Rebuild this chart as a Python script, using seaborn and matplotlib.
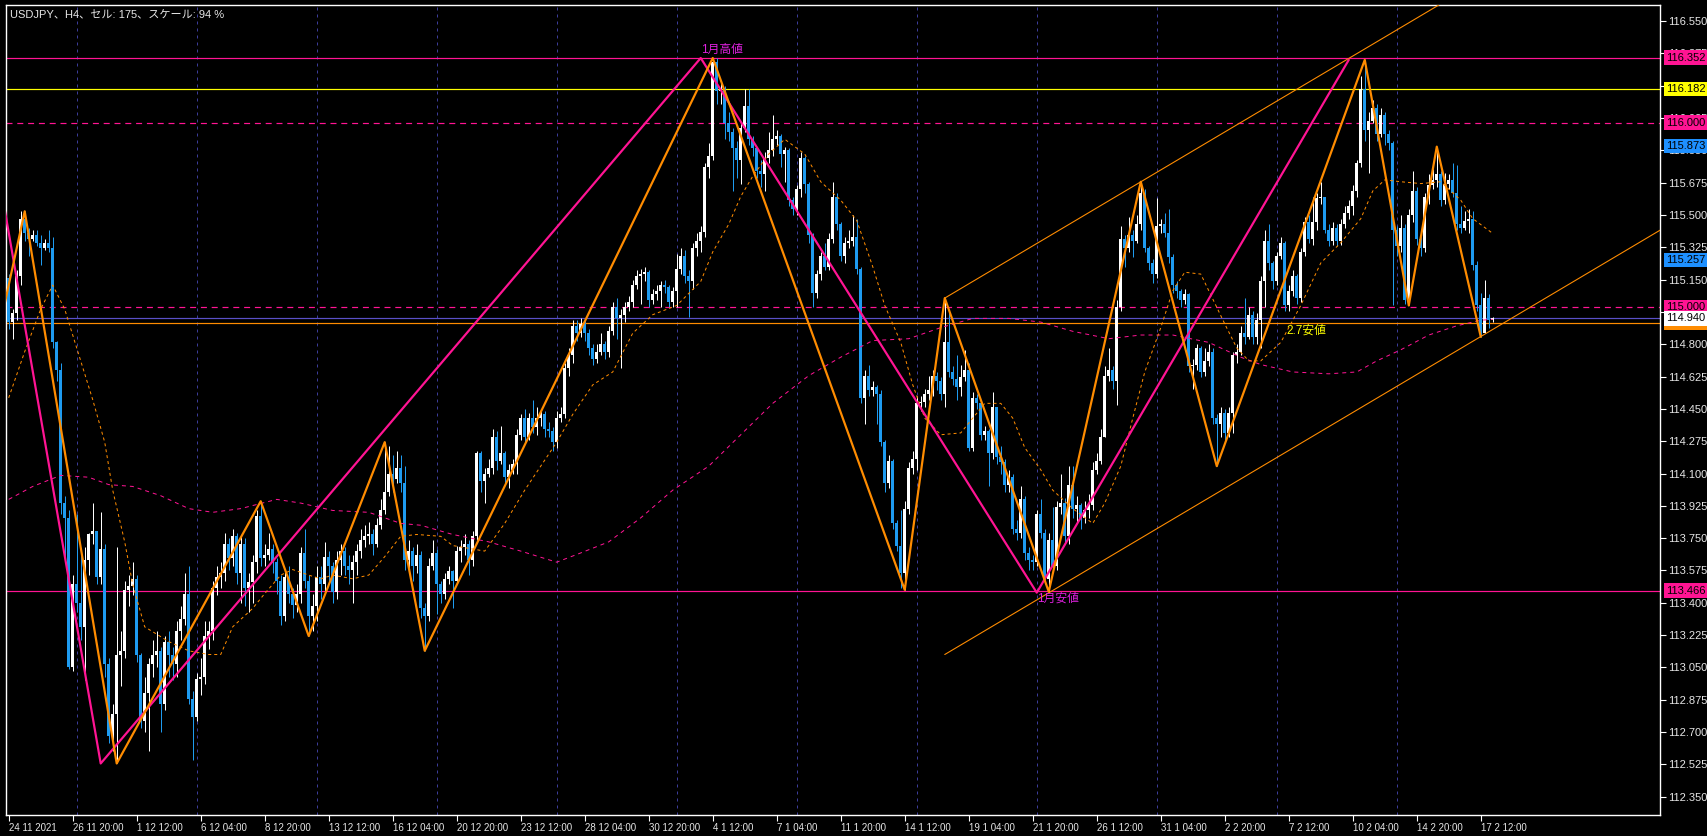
import numpy as np
import matplotlib
matplotlib.use("Agg")
import matplotlib.pyplot as plt
import seaborn as sns

# --- chart data (USDJPY H4) ---
first_open = 115.16
closes = [
    114.92, 114.97, 115.17, 115.48, 115.40, 115.37, 115.39, 115.35, 115.32, 115.35,
    115.32, 114.81, 114.66, 113.94, 113.86, 113.05, 113.50, 113.40, 113.27, 113.63,
    113.77, 113.79, 113.54, 113.69, 113.07, 112.68, 112.80, 113.12, 113.14, 113.47,
    113.49, 113.53, 113.12, 112.76, 112.91, 113.07, 113.12, 113.14, 112.85, 113.19,
    113.12, 113.07, 113.25, 113.31, 113.45, 112.88, 112.78, 112.99, 113.00, 113.22,
    113.25, 113.48, 113.54, 113.56, 113.72, 113.64, 113.76, 113.56, 113.72, 113.48,
    113.51, 113.62, 113.87, 113.64, 113.66, 113.69, 113.62, 113.52, 113.33, 113.54,
    113.45, 113.39, 113.45, 113.67, 113.52, 113.33, 113.38, 113.54, 113.50, 113.65,
    113.60, 113.46, 113.63, 113.68, 113.60, 113.58, 113.62, 113.68, 113.74, 113.76,
    113.77, 113.72, 113.82, 113.90, 114.00, 114.10, 114.07, 114.13, 114.05, 113.63,
    113.68, 113.60, 113.66, 113.37, 113.33, 113.60, 113.67, 113.50, 113.45, 113.53,
    113.57, 113.52, 113.68, 113.70, 113.72, 113.63, 113.76, 114.21, 114.06, 114.10,
    114.13, 114.30, 114.17, 114.21, 114.08, 114.12, 114.15, 114.31, 114.40, 114.30,
    114.40, 114.35, 114.40, 114.42, 114.34, 114.33, 114.27, 114.40, 114.42, 114.67,
    114.74, 114.90, 114.86, 114.91, 114.86, 114.78, 114.72, 114.76, 114.80, 114.76,
    114.87, 115.00, 114.94, 114.96, 115.00, 115.03, 115.12, 115.17, 115.18, 115.19,
    115.04, 115.07, 115.09, 115.12, 115.11, 115.03, 115.09, 115.21, 115.28, 115.17,
    115.14, 115.32, 115.36, 115.41, 115.76, 115.82, 116.33, 116.17, 116.18, 116.00,
    115.95, 115.86, 115.80, 115.97, 116.09, 115.91, 115.86, 115.74, 115.72, 115.81,
    115.85, 115.91, 115.93, 115.83, 115.85, 115.58, 115.53, 115.64, 115.81, 115.67,
    115.39, 115.08, 115.18, 115.28, 115.22, 115.37, 115.60, 115.45, 115.28, 115.35,
    115.36, 115.38, 115.21, 114.51, 114.63, 114.55, 114.57, 114.53, 114.27, 114.05,
    114.17, 113.83, 113.71, 113.56, 113.91, 114.13, 114.18, 114.48, 114.49, 114.53,
    114.55, 114.63, 114.60, 114.53, 114.81, 114.65, 114.61, 114.57, 114.62, 114.66,
    114.24, 114.51, 114.48, 114.31, 114.33, 114.21, 114.46, 114.19, 114.16, 114.04,
    114.08, 113.80, 113.78, 113.96, 113.67, 113.63, 113.62, 113.88, 113.78, 113.53,
    113.74, 113.60, 113.92, 113.94, 113.76, 114.04, 113.91, 113.93, 113.86, 113.90,
    113.93, 114.12, 114.17, 114.30, 114.63, 114.66, 114.60, 115.00, 115.37, 115.32,
    115.39, 115.36, 115.45, 115.62, 115.32, 115.24, 115.18, 115.44, 115.45, 115.40,
    115.27, 115.12, 115.09, 115.04, 115.07, 114.68, 114.69, 114.78, 114.65, 114.71,
    114.76, 114.40, 114.37, 114.43, 114.32, 114.43, 114.74, 114.76, 114.86, 114.84,
    114.96, 114.84, 114.93, 115.14, 115.36, 115.24, 115.14, 115.28, 115.35, 115.01,
    115.09, 115.17, 115.05, 115.30, 115.46, 115.37, 115.46, 115.59, 115.60, 115.42,
    115.36, 115.43, 115.36, 115.45, 115.51, 115.55, 115.63, 115.78, 116.18, 115.96,
    116.01, 116.08, 115.94, 116.04, 115.94, 115.89, 115.42, 115.33, 115.43, 115.04,
    115.50, 115.63, 115.37, 115.32, 115.60, 115.66, 115.69, 115.72, 115.58, 115.67,
    115.69, 115.62, 115.45, 115.43, 115.47, 115.48, 115.23, 115.01, 114.86, 115.05,
    114.93, 114.94,
]
highs = [
    115.18, 114.99, 115.20, 115.52, 115.52, 115.43, 115.42, 115.42, 115.39, 115.37,
    115.42, 115.38, 114.82, 114.70, 113.98, 113.90, 113.55, 113.88, 113.67, 113.70,
    113.78, 113.94, 113.79, 113.89, 113.72, 113.10, 112.85, 113.70, 113.25, 113.52,
    113.55, 113.62, 113.55, 113.13, 113.00, 113.10, 113.20, 113.25, 113.16, 113.22,
    113.25, 113.16, 113.30, 113.38, 113.56, 113.60, 112.92, 113.02, 113.10, 113.30,
    113.30, 113.52, 113.60, 113.62, 113.78, 113.75, 113.80, 113.78, 113.76, 113.75,
    113.56, 113.66, 113.90, 113.95, 113.72, 113.78, 113.72, 113.64, 113.55, 113.58,
    113.60, 113.48, 113.50, 113.70, 113.80, 113.55, 113.45, 113.60, 113.60, 113.73,
    113.68, 113.62, 113.68, 113.72, 113.70, 113.66, 113.66, 113.72, 113.80, 113.82,
    113.84, 113.80, 113.86, 113.96, 114.27, 114.25, 114.20, 114.22, 114.20, 114.14,
    113.74, 113.70, 113.72, 113.68, 113.40, 113.64, 113.74, 113.69, 113.52, 113.56,
    113.60, 113.58, 113.71, 113.74, 113.77, 113.74, 113.79, 114.22, 114.22, 114.13,
    114.18, 114.34, 114.33, 114.36, 114.22, 114.15, 114.18, 114.34, 114.42, 114.45,
    114.43, 114.50, 114.46, 114.44, 114.44, 114.38, 114.35, 114.44, 114.46, 114.70,
    114.78, 114.93, 114.93, 114.94, 114.93, 114.88, 114.80, 114.80, 114.86, 114.82,
    114.90, 115.03, 115.05, 114.99, 115.03, 115.06, 115.15, 115.20, 115.21, 115.22,
    115.20, 115.10, 115.12, 115.14, 115.15, 115.12, 115.11, 115.29, 115.32, 115.31,
    115.20, 115.35, 115.40, 115.44, 115.78, 115.89, 116.35, 116.35, 116.22, 116.20,
    116.06, 115.97, 115.90, 116.00, 116.18, 116.18, 115.93, 115.87, 115.80, 115.84,
    115.95, 116.04, 115.96, 115.94, 115.87, 115.86, 115.60, 115.66, 115.84, 115.82,
    115.68, 115.40, 115.20, 115.30, 115.35, 115.40, 115.68, 115.62, 115.46, 115.38,
    115.42, 115.50, 115.48, 115.22, 114.66, 114.69, 114.60, 114.58, 114.55, 114.28,
    114.20, 114.18, 113.85, 113.90, 113.95, 114.16, 114.22, 114.52, 114.52, 114.56,
    114.63, 114.66, 114.65, 114.62, 115.05, 114.98, 114.68, 114.74, 114.69, 114.77,
    114.70, 114.54, 114.53, 114.46, 114.36, 114.34, 114.54, 114.44, 114.25, 114.18,
    114.12, 114.10, 113.85, 114.03, 113.98, 113.70, 113.66, 113.90, 113.96, 113.80,
    113.78, 113.92, 113.95, 114.10, 113.97, 114.14, 114.14, 113.98, 113.94, 113.95,
    113.99, 114.16, 114.21, 114.34, 114.68, 114.78, 114.68, 115.04, 115.44, 115.39,
    115.49, 115.42, 115.50, 115.68, 115.64, 115.33, 115.26, 115.59, 115.48, 115.51,
    115.53, 115.29, 115.14, 115.10, 115.10, 115.08, 114.72, 114.80, 114.79, 114.78,
    114.80, 114.78, 114.42, 114.46, 114.45, 114.46, 114.76, 114.80, 114.90, 115.05,
    115.00, 114.98, 114.97, 115.17, 115.42, 115.45, 115.25, 115.30, 115.38, 115.36,
    115.12, 115.20, 115.18, 115.32, 115.49, 115.50, 115.60, 115.62, 115.68, 115.60,
    115.45, 115.46, 115.45, 115.48, 115.55, 115.58, 115.66, 115.80, 116.25, 116.34,
    116.06, 116.12, 116.10, 116.08, 116.06, 115.96, 115.90, 115.44, 115.50, 115.45,
    115.53, 115.74, 115.65, 115.40, 115.62, 115.72, 115.75, 115.87, 115.74, 115.73,
    115.72, 115.78, 115.77, 115.55, 115.52, 115.53, 115.52, 115.25, 115.08, 115.15,
    115.07, 114.95,
]
lows = [
    114.88, 114.83, 114.93, 115.12, 115.36, 115.28, 115.36, 115.33, 115.23, 115.31,
    115.30, 114.78, 114.60, 113.88, 113.65, 113.04, 113.03, 113.35, 113.20, 112.98,
    113.55, 113.72, 113.50, 113.50, 113.00, 112.64, 112.60, 112.53, 112.95, 113.10,
    113.38, 113.44, 113.08, 112.72, 112.70, 112.60, 113.00, 113.05, 112.70, 112.82,
    113.00, 112.98, 113.00, 113.20, 113.28, 112.85, 112.55, 112.76, 112.90, 112.96,
    113.15, 113.20, 113.44, 113.48, 113.52, 113.58, 113.60, 113.50, 113.40, 113.38,
    113.35, 113.40, 113.56, 113.60, 113.60, 113.63, 113.56, 113.45, 113.28, 113.30,
    113.40, 113.32, 113.35, 113.40, 113.48, 113.22, 113.25, 113.30, 113.42, 113.45,
    113.52, 113.40, 113.42, 113.55, 113.55, 113.50, 113.40, 113.55, 113.64, 113.70,
    113.72, 113.66, 113.70, 113.80, 113.88, 113.98, 114.00, 114.05, 114.00, 113.58,
    113.58, 113.52, 113.56, 113.32, 113.14, 113.30, 113.58, 113.34, 113.40, 113.42,
    113.50, 113.37, 113.50, 113.62, 113.66, 113.55, 113.60, 113.74, 114.00, 113.94,
    114.08, 114.10, 114.12, 114.15, 114.05, 114.02, 114.10, 114.10, 114.28, 114.26,
    114.28, 114.32, 114.31, 114.36, 114.30, 114.30, 114.22, 114.24, 114.38, 114.40,
    114.63, 114.70, 114.82, 114.84, 114.82, 114.74, 114.69, 114.70, 114.74, 114.72,
    114.73, 114.85, 114.83, 114.67, 114.92, 114.98, 115.00, 115.10, 115.02, 115.14,
    115.00, 115.02, 115.04, 115.00, 115.08, 115.00, 115.00, 115.00, 115.18, 115.13,
    114.95, 115.10, 115.28, 115.30, 115.38, 115.70, 115.80, 116.10, 116.10, 115.91,
    115.90, 115.63, 115.70, 115.67, 115.95, 115.88, 115.82, 115.70, 115.65, 115.63,
    115.78, 115.82, 115.88, 115.76, 115.68, 115.55, 115.50, 115.50, 115.60, 115.62,
    115.35, 115.00, 115.05, 115.15, 115.20, 115.20, 115.35, 115.42, 115.25, 115.24,
    115.32, 115.33, 115.18, 114.48, 114.37, 114.52, 114.52, 114.37, 114.25, 114.00,
    114.02, 113.80, 113.68, 113.48, 113.47, 113.88, 114.10, 114.12, 114.44, 114.46,
    114.50, 114.52, 114.55, 114.50, 114.46, 114.62, 114.58, 114.50, 114.52, 114.60,
    114.22, 114.22, 114.45, 114.28, 114.28, 114.03, 114.18, 114.15, 114.10, 114.00,
    114.00, 113.77, 113.74, 113.75, 113.63, 113.58, 113.58, 113.60, 113.75, 113.50,
    113.46, 113.56, 113.58, 113.88, 113.72, 113.72, 113.86, 113.84, 113.80, 113.83,
    113.86, 113.90, 114.10, 114.15, 114.30, 114.60, 114.56, 114.47, 114.98, 115.22,
    115.30, 115.27, 115.35, 115.42, 115.30, 115.20, 115.13, 115.16, 115.40, 115.38,
    115.24, 115.08, 115.05, 115.00, 115.02, 114.65, 114.56, 114.66, 114.62, 114.63,
    114.68, 114.37, 114.14, 114.30, 114.28, 114.30, 114.32, 114.70, 114.74, 114.80,
    114.83, 114.80, 114.80, 114.78, 115.00, 115.20, 115.10, 115.12, 115.26, 114.98,
    114.98, 115.06, 115.02, 115.03, 115.28, 115.35, 115.34, 115.42, 115.56, 115.40,
    115.33, 115.34, 115.33, 115.34, 115.43, 115.48, 115.50, 115.60, 115.76, 115.90,
    115.73, 116.00, 115.90, 115.92, 115.88, 115.85, 115.01, 115.28, 115.30, 115.02,
    115.01, 115.46, 115.34, 115.28, 115.30, 115.56, 115.64, 115.65, 115.55, 115.56,
    115.64, 115.60, 115.42, 115.40, 115.42, 115.40, 115.20, 114.98, 114.84, 114.86,
    114.89, 114.92,
]

# moving averages (short = orange, long = pink), sampled along the bars
ma_fast_bar = [0, 4, 8, 11, 14, 18, 21, 24, 26, 29, 31, 34, 40, 45, 50, 53, 56, 61, 64, 68,
               71, 75, 78, 81, 86, 90, 94, 98, 102, 108, 111, 119, 124, 129, 133, 137, 141,
               146, 151, 156, 161, 167, 173, 176, 180, 183, 186, 190, 194, 199, 203, 208,
               212, 216, 219, 223, 226, 229, 233, 238, 241, 244, 248, 251, 254, 258, 261,
               266, 271, 274, 278, 281, 284, 288, 291, 294, 298, 300, 304, 307, 310, 313,
               318, 323, 328, 333, 338, 341, 344, 348, 353, 358, 363, 366, 371]
ma_fast = [114.51, 114.76, 114.99, 115.12, 114.99, 114.71, 114.50, 114.27, 114.01, 113.73,
           113.50, 113.27, 113.19, 113.14, 113.12, 113.12, 113.27, 113.37, 113.45, 113.55,
           113.58, 113.55, 113.53, 113.55, 113.53, 113.55, 113.65, 113.76, 113.77, 113.76,
           113.71, 113.68, 113.83, 114.01, 114.14, 114.27, 114.42, 114.58, 114.65, 114.86,
           114.96, 115.01, 115.14, 115.30, 115.45, 115.60, 115.71, 115.83, 115.91, 115.83,
           115.68, 115.58, 115.47, 115.22, 115.01, 114.81, 114.58, 114.40, 114.31, 114.32,
           114.40, 114.48, 114.48, 114.40, 114.24, 114.12, 114.01, 113.91, 113.83, 113.94,
           114.14, 114.40, 114.65, 114.89, 115.09, 115.19, 115.18, 115.09, 114.91, 114.78,
           114.71, 114.71, 114.81, 115.01, 115.24, 115.35, 115.48, 115.63, 115.69, 115.68,
           115.67, 115.68, 115.58, 115.48, 115.40]
ma_slow_bar = [0, 6, 13, 20, 25, 31, 38, 45, 51, 58, 67, 73, 81, 90, 98, 103, 111, 120, 128,
               137, 143, 150, 158, 166, 175, 183, 191, 200, 208, 216, 225, 233, 241, 250, 258,
               266, 275, 283, 291, 300, 308, 313, 321, 330, 337, 342, 348, 355, 362, 368, 371]
ma_slow = [113.96, 114.03, 114.09, 114.08, 114.04, 114.03, 113.98, 113.91, 113.89, 113.91,
           113.96, 113.94, 113.90, 113.89, 113.83, 113.82, 113.77, 113.73, 113.68, 113.62,
           113.67, 113.73, 113.86, 114.01, 114.14, 114.31, 114.48, 114.63, 114.73, 114.82,
           114.83, 114.89, 114.94, 114.94, 114.92, 114.87, 114.83, 114.85, 114.85, 114.81,
           114.73, 114.69, 114.65, 114.64, 114.65, 114.71, 114.77, 114.85, 114.90, 114.93,
           114.935]

# zigzags
zz_orange_bar = [-1, 4, 27, 63, 75, 94, 104, 176, 224, 234, 260, 283, 302, 339, 350, 357, 368]
zz_orange = [115.02, 115.52, 112.53, 113.95, 113.22, 114.27, 113.14, 116.35, 113.47, 115.05,
             113.46, 115.68, 114.14, 116.34, 115.01, 115.87, 114.84]
zz_pink_bar = [-1, 23, 173, 257, 335]
zz_pink = [115.53, 112.53, 116.35, 113.455, 116.34]

# channel (two parallel rays)
channel_bar = [234, 413]
channel_low = [113.12, 115.42]
channel_high = [115.05, 117.35]

# horizontal levels
level_values = [116.352, 116.182, 116.000, 115.000, 114.940, 114.915, 113.466]
level_colors = ['#FF1493', '#FFFF00', '#FF1493', '#FF1493', '#5A50C8', '#FF8C00', '#FF1493']
level_styles = ['-', '-', (0, (5, 4)), (0, (5, 4)), '-', '-', '-']

# price tags on the right axis
tag_values = [114.915, 116.352, 116.182, 116.000, 115.873, 115.257, 115.000, 114.940, 113.466]
tag_colors = ['#FF8C00', '#FF1493', '#FFFF00', '#FF1493', '#1E90FF', '#1E90FF', '#FF1493',
              '#FFFFFF', '#FF1493']

y_tick_labels = ['112.350', '112.525', '112.700', '112.875', '113.050', '113.225', '113.400',
                 '113.575', '113.750', '113.925', '114.100', '114.275', '114.450', '114.625',
                 '114.800', '114.975', '115.150', '115.325', '115.500', '115.675', '115.850',
                 '116.025', '116.200', '116.375', '116.550']
x_tick_labels = ['24 11 2021', '26 11 20:00', '1 12 12:00', '6 12 04:00', '8 12 20:00',
                 '13 12 12:00', '16 12 04:00', '20 12 20:00', '23 12 12:00', '28 12 04:00',
                 '30 12 20:00', '4 1 12:00', '7 1 04:00', '11 1 20:00', '14 1 12:00',
                 '19 1 04:00', '21 1 20:00', '26 1 12:00', '31 1 04:00', '2 2 20:00',
                 '7 2 12:00', '10 2 04:00', '14 2 20:00', '17 2 12:00']
title = 'USDJPY、H4、セル: 175、スケール: 94 %'

# --- style ---
sns.set_theme(style='dark')
plt.rcParams['font.family'] = ['Liberation Sans', 'Noto Sans CJK JP', 'DejaVu Sans']
plt.rcParams['axes.facecolor'] = 'black'
plt.rcParams['figure.facecolor'] = 'black'

W, H = 1707, 836
fig = plt.figure(figsize=(W / 100, H / 100), dpi=100)
ax = fig.add_axes([6 / W, 21 / H, 1654 / W, 810 / H])
ax.set_facecolor('black')

px = 0.72  # one pixel in points

# weekly grid
for g in range(17, len(closes), 30):
    ax.axvline(g, color='#3C3C9A', lw=px, ls=(0, (3, 4)), zorder=1)

for v, c, s in zip(level_values, level_colors, level_styles):
    ax.axhline(v, color=c, lw=px * 1.2, ls=s, zorder=2)

# candles
c_arr = np.array(closes)
o_arr = np.concatenate([[first_open], c_arr[:-1]])
h_arr = np.maximum(np.array(highs), np.maximum(o_arr, c_arr))
l_arr = np.minimum(np.array(lows), np.minimum(o_arr, c_arr))
bars = np.arange(len(c_arr))
up = c_arr >= o_arr
cols = np.where(up, '#FFFFFF', '#1E9BF0')
ax.vlines(bars, l_arr, h_arr, colors=cols, lw=px, zorder=3)
ax.bar(bars, np.maximum(np.abs(c_arr - o_arr), 0.006), bottom=np.minimum(o_arr, c_arr),
       width=0.75, color=cols, linewidth=0, zorder=4)

# moving averages
sns.lineplot(x=ma_slow_bar, y=ma_slow, ax=ax, color='#FF1493', lw=px, linestyle=(0, (4, 4)), zorder=5)
sns.lineplot(x=ma_fast_bar, y=ma_fast, ax=ax, color='#FF8C00', lw=px, linestyle=(0, (3, 3)), zorder=5)

# channel
sns.lineplot(x=channel_bar, y=channel_low, ax=ax, color='#FF8C00', lw=px * 1.1, zorder=5)
sns.lineplot(x=channel_bar, y=channel_high, ax=ax, color='#FF8C00', lw=px * 1.1, zorder=5)

# zigzags
sns.lineplot(x=zz_pink_bar, y=zz_pink, ax=ax, color='#FF1493', lw=px * 2.2, zorder=6)
sns.lineplot(x=zz_orange_bar, y=zz_orange, ax=ax, color='#FF8C00', lw=px * 2.2, zorder=7)

ax.set_xlim(-0.675, 412.8)
ax.set_ylim(112.251, 116.637)
ax.set_xlabel('')
ax.set_ylabel('')
ax.grid(False)

# axes / ticks
for sp in ax.spines.values():
    sp.set_color('white')
    sp.set_linewidth(1)
ax.yaxis.tick_right()
ax.set_yticks([float(t) for t in y_tick_labels])
ax.set_yticklabels(y_tick_labels)
ax.set_xticks(range(0, 16 * len(x_tick_labels), 16))
ax.set_xticklabels(x_tick_labels, ha='left')
ax.tick_params(axis='y', right=True, left=False, labelright=True, labelleft=False,
               length=4, width=0.8, color='white', labelcolor='#E6E6E6', labelsize=8, pad=2)
ax.tick_params(axis='x', bottom=True, length=4, width=0.8, color='white',
               labelcolor='#E6E6E6', labelsize=7, pad=2)

# price tags (drawn over the tick labels, as the terminal does)
ytr = ax.get_yaxis_transform()
for v, c in zip(tag_values, tag_colors):
    ax.text(1.0 + 6 / 1654, v, f'{v:.3f}', transform=ytr, ha='left', va='center',
            fontsize=8, color='black', clip_on=False, zorder=10,
            bbox=dict(boxstyle='square,pad=0.2', fc=c, ec='none'))

# annotations
ax.text(4 / 1654, 1 - 10 / 810, title, transform=ax.transAxes, ha='left', va='center',
        fontsize=8, color='#E6E6E6', zorder=10)
ax.text(178.3, 116.36, '1月高値', ha='center', va='bottom', fontsize=8.5,
        color='#E020E0', zorder=10)
ax.text(257, 113.455, '1月安値', ha='left', va='top', fontsize=8.5,
        color='#E020E0', zorder=10)
ax.text(319.5, 114.905, '2.7安値', ha='left', va='top', fontsize=8.5,
        color='#FFFF00', zorder=10)

fig.savefig('out.png', dpi=100, facecolor='black')
